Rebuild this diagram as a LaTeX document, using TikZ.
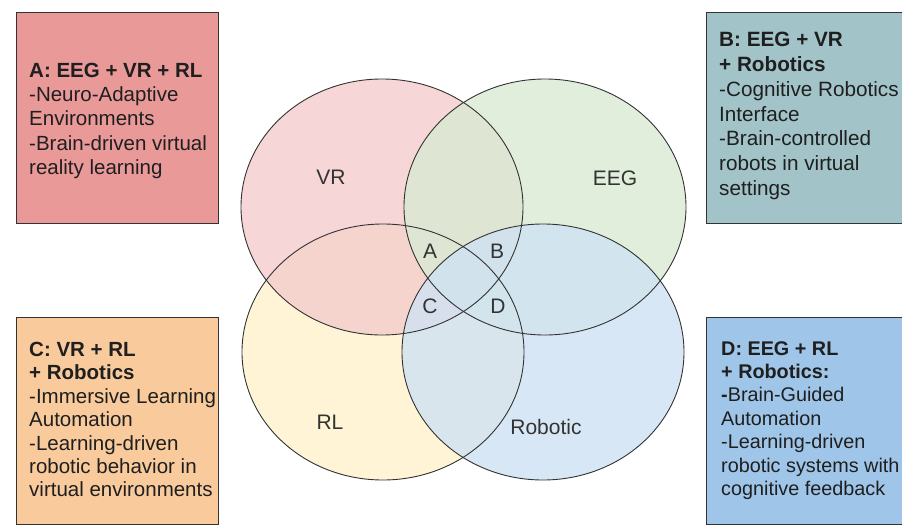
\documentclass[tikz,border=0pt]{standalone}
\usepackage{fontspec}
\setmainfont{Liberation Sans}
\usetikzlibrary{shapes.geometric}
\definecolor{boxA}{HTML}{EA9999}
\definecolor{boxB}{HTML}{A2C4C9}
\definecolor{boxC}{HTML}{F9CB9C}
\definecolor{boxD}{HTML}{9FC5E8}
\definecolor{vrc}{HTML}{F4CCCC}
\definecolor{eegc}{HTML}{D9EAD3}
\definecolor{rlc}{HTML}{FFF2CC}
\definecolor{robc}{HTML}{CFE2F3}
\definecolor{edgec}{HTML}{333333}
\begin{document}
\begin{tikzpicture}[x=1pt,y=-1pt,
 infobox/.style={draw=edgec, line width=1.1pt, rectangle, inner sep=0pt, anchor=north west},
 infotext/.style={anchor=north west, inner sep=0pt, align=left, text=black!88},
 vennfill/.style={ellipse, inner sep=0pt, minimum width=282pt, minimum height=256pt, fill opacity=0.8},
 vennline/.style={draw=edgec, line width=0.9pt},
 vennlabel/.style={inner sep=0pt, font=\fontsize{21}{24}\selectfont, text=black!80}]
\useasboundingbox (0,0) rectangle (902,525);
\fill[white] (0,0) rectangle (902,525);

% info boxes
\node[infobox, fill=boxA, minimum width=202pt, minimum height=211pt] (boxa) at (16,12) {};
\node[infobox, fill=boxB, minimum width=199pt, minimum height=211pt] (boxb) at (706,12) {};
\node[infobox, fill=boxC, minimum width=202pt, minimum height=207pt] (boxc) at (16,317) {};
\node[infobox, fill=boxD, minimum width=199pt, minimum height=207pt] (boxd) at (706,317) {};

\node[infotext, font=\fontsize{20.5}{24.2}\selectfont] (texta) at (29,63) {\textbf{A: EEG + VR + RL}\\-Neuro-Adaptive\\Environments\\-Brain-driven virtual\\reality learning};
\node[infotext, font=\fontsize{20.7}{24.8}\selectfont] (textb) at (719,32) {\textbf{B: EEG + VR}\\\textbf{+ Robotics}\\-Cognitive Robotics\\Interface\\-Brain-controlled\\robots in virtual\\settings};
\node[infotext, font=\fontsize{20.5}{23.4}\selectfont] (textc) at (29,342) {\textbf{C: VR + RL}\\\textbf{+ Robotics}\\-Immersive Learning\\Automation\\-Learning-driven\\robotic behavior in\\virtual environments};
\node[infotext, font=\fontsize{19.8}{23.4}\selectfont] (textd) at (721,341) {\textbf{D: EEG + RL}\\\textbf{+ Robotics:}\\\textbf{-}Brain-Guided\\Automation\\-Learning-driven\\robotic systems with\\cognitive feedback};

% venn fills
\node[vennfill, fill=rlc] (rl) at (383,352) {};
\node[vennfill, fill=vrc] (vr) at (382,207) {};
\node[vennfill, fill=eegc] (eeg) at (545,207) {};
\node[vennfill, fill=robc] (rob) at (543,352) {};
% venn outlines
\foreach \n in {rl,vr,eeg,rob}
  \draw[vennline] (\n.center) ellipse [x radius=141, y radius=128];

% labels
\node[vennlabel] (lvr) at (331,177) {VR};
\node[vennlabel] (leeg) at (615,178) {EEG};
\node[vennlabel] (lrl) at (330,422) {RL};
\node[vennlabel] (lrob) at (546,427) {Robotic};
\node[vennlabel] (la) at (430,251) {A};
\node[vennlabel] (lb) at (497,251) {B};
\node[vennlabel] (lc) at (430,306) {C};
\node[vennlabel] (ld) at (498,306) {D};
\end{tikzpicture}
\end{document}
